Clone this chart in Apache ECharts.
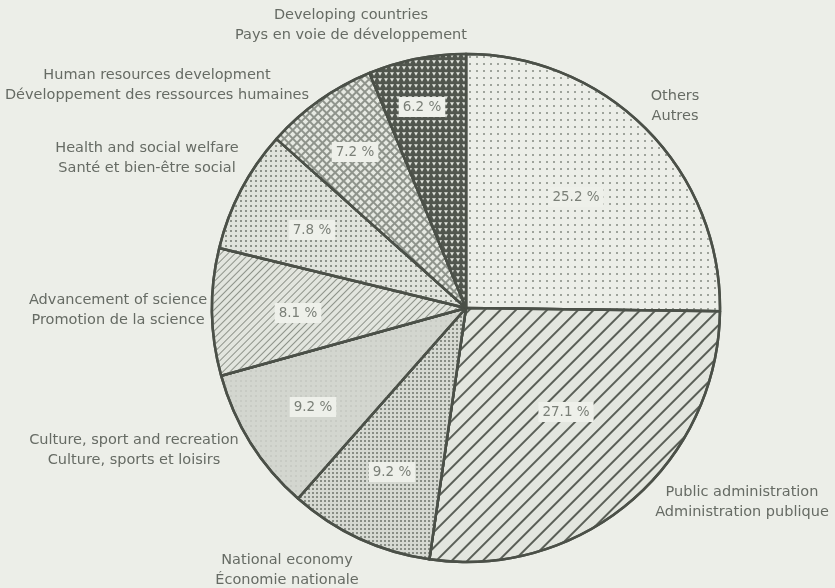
<!DOCTYPE html>
<html>
<head>
<meta charset="utf-8">
<script src="https://cdn.jsdelivr.net/npm/echarts@6/dist/echarts.min.js"></script>
<style>
html,body{margin:0;padding:0;background:#eceee8;}
#chart{width:835px;height:588px;}
</style>
</head>
<body>
<div id="chart"></div>
<script>
// ---- data ----
var categoriesEn = ['Others', 'Public administration', 'National economy', 'Culture, sport and recreation', 'Advancement of science', 'Health and social welfare', 'Human resources development', 'Developing countries'];
var categoriesFr = ['Autres', 'Administration publique', 'Économie nationale', 'Culture, sports et loisirs', 'Promotion de la science', 'Santé et bien-être social', 'Développement des ressources humaines', 'Pays en voie de développement'];
var shares = [25.2, 27.1, 9.2, 9.2, 8.1, 7.8, 7.2, 6.2];

// ---- layout (label anchor points, px) ----
var outerLabelPos = [[675, 106], [742, 502], [287, 570], [134, 450], [118, 310], [147, 158], [157, 85], [351, 25]];
var innerLabelPos = [[576, 197], [566, 412], [392, 472], [313, 407], [298, 313], [312, 230], [355, 152], [422, 107]];

// ---- styles ----
var styles = [
  { color: '#eceee8', decal: { symbol: 'circle', symbolSize: 1, dashArrayX: [1.4, 4.6], dashArrayY: [1.4, 4.6], color: '#858a82' } },
  { color: '#e3e6df', decal: { symbol: 'rect', symbolSize: 1, dashArrayX: [1, 0], dashArrayY: [2, 8.6], rotation: -Math.PI / 4, color: '#5a5f57' } },
  { color: '#d6d9d2', decal: { symbol: 'circle', symbolSize: 1, dashArrayX: [1.9, 1.8], dashArrayY: [1.9, 1.8], color: '#6e736b' } },
  { color: '#d3d6cf', decal: { symbol: 'circle', symbolSize: 1, dashArrayX: [1.2, 3], dashArrayY: [1.2, 3], color: '#c4c7c0' } },
  { color: '#e2e5de', decal: { symbol: 'rect', symbolSize: 1, dashArrayX: [1, 0], dashArrayY: [1, 3.4], rotation: -Math.PI / 4, color: '#8d9289' } },
  { color: '#e0e3dc', decal: { symbol: 'circle', symbolSize: 1, dashArrayX: [2, 2.7], dashArrayY: [2, 2.7], color: '#72776f' } },
  { color: '#8f948c', decal: { symbol: 'rect', symbolSize: 1, dashArrayX: [4, 1.6], dashArrayY: [4, 1.6], rotation: Math.PI / 4, color: '#e6e9e2' } },
  { color: '#51564e', decal: { symbol: 'path://M0,0L10,0L5,9Z', symbolSize: 1, dashArrayX: [3.6, 1.7], dashArrayY: [3.3, 1.9], color: '#e3e6df' } }
];

var pieData = shares.map(function (v, i) {
  return {
    name: categoriesEn[i],
    value: v,
    itemStyle: { color: styles[i].color, decal: styles[i].decal }
  };
});
var labelData = shares.map(function (v, i) {
  return { name: categoriesEn[i], value: v };
});

var chart = echarts.init(document.getElementById('chart'));
var center = [466, 308];
var radius = 254;
var textColor = '#666b64';

chart.setOption({
  backgroundColor: '#eceee8',
  animation: false,
  series: [
    {
      type: 'pie',
      center: center,
      radius: radius,
      startAngle: 90,
      clockwise: true,
      silent: true,
      data: pieData,
      itemStyle: { borderColor: '#4b5048', borderWidth: 2.5 },
      label: {
        show: true,
        position: 'inside',
        formatter: function (p) { return p.value.toFixed(1) + ' %'; },
        color: '#7a7f77',
        fontFamily: 'DejaVu Sans',
        fontSize: 13.5,
        backgroundColor: '#eef0ea',
        padding: [3, 4]
      },
      labelLine: { show: false },
      labelLayout: function (p) {
        var pos = innerLabelPos[p.dataIndex];
        return { x: pos[0], y: pos[1], align: 'center', verticalAlign: 'middle' };
      }
    },
    {
      type: 'pie',
      center: center,
      radius: radius,
      startAngle: 90,
      clockwise: true,
      silent: true,
      data: labelData,
      itemStyle: { color: 'rgba(0,0,0,0)', borderWidth: 0 },
      label: {
        show: true,
        position: 'outside',
        overflow: 'none',
        width: 400,
        formatter: function (p) { return categoriesEn[p.dataIndex] + '\n' + categoriesFr[p.dataIndex]; },
        color: textColor,
        fontFamily: 'DejaVu Sans',
        fontSize: 14.5,
        lineHeight: 20,
        align: 'center'
      },
      labelLine: { show: false },
      labelLayout: function (p) {
        var pos = outerLabelPos[p.dataIndex];
        return { x: pos[0], y: pos[1], align: 'center', verticalAlign: 'middle' };
      }
    }
  ]
});
</script>
</body>
</html>
